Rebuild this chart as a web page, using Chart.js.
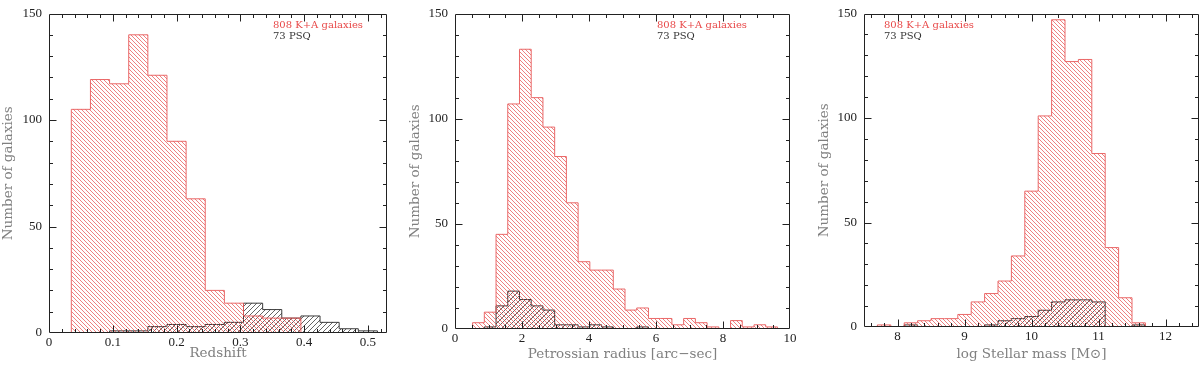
<!DOCTYPE html>
<html>
<head>
<meta charset="utf-8">
<script src="https://cdn.jsdelivr.net/npm/chart.js@4/dist/chart.umd.min.js"></script>
<style>
html, body { margin: 0; padding: 0; background: #fff; }
body { width: 1200px; height: 365px; position: relative; overflow: hidden; }
.panel { position: absolute; top: 0; width: 400px; height: 365px; }
</style>
</head>
<body>
<div class="panel" style="left:0"><canvas id="zChart"></canvas></div>
<div class="panel" style="left:400px"><canvas id="rChart"></canvas></div>
<div class="panel" style="left:800px"><canvas id="mChart"></canvas></div>
<script>
// 红移分布 (bin edges + counts)
const zEdges = [0.035, 0.065, 0.095, 0.125, 0.155, 0.185, 0.215, 0.245, 0.275,
                0.305, 0.335, 0.365, 0.395, 0.425, 0.455, 0.485, 0.515];
const zKA  = [105, 119, 117, 140, 121, 90, 63, 20, 14, 8, 7, 7, 0, 0, 0, 0];
const zPSQ = [0, 0, 1, 1, 3, 4, 3, 4, 5, 14, 11, 7, 8, 5, 2, 1];

// Petrossian radius
const rEdges = [0.525, 0.875, 1.225, 1.575, 1.925, 2.275, 2.625, 2.975, 3.325,
                3.675, 4.025, 4.375, 4.725, 5.075, 5.425, 5.775, 6.125, 6.475,
                6.825, 7.175, 7.525, 7.875, 8.225, 8.575, 8.925, 9.275, 9.625];
const rKA  = [3, 8, 45, 107, 133, 110, 96, 82, 60, 32, 28, 28, 19, 9, 10, 5, 5,
              2, 5, 3, 1, 0, 4, 1, 2, 1];
const rPSQ = [0, 1, 11, 18, 14, 11, 9, 2, 2, 1, 2, 1, 0, 0, 1, 0, 0,
              0, 0, 0, 0, 0, 0, 0, 0, 0];

// stellar mass
const mEdges = [7.7, 7.9, 8.1, 8.3, 8.5, 8.7, 8.9, 9.1, 9.3, 9.5, 9.7, 9.9,
                10.1, 10.3, 10.5, 10.7, 10.9, 11.1, 11.3, 11.5, 11.7];
const mKA  = [1, 0, 2, 3, 4, 4, 6, 12, 16, 22, 34, 65, 101, 147, 127, 128, 83, 38, 14, 2];
const mPSQ = [0, 0, 1, 0, 0, 0, 0, 0, 1, 3, 4, 5, 8, 12, 13, 13, 12, 0, 0, 1];

// tick labels
const zTicks = [0, 0.1, 0.2, 0.3, 0.4, 0.5];
const rTicks = [0, 2, 4, 6, 8, 10];
const mTicks = [8, 9, 10, 11, 12];
const yTicks = [0, 50, 100, 150];

const kaLabel = '808 K+A galaxies';
const psqLabel = '73 PSQ';

const RED = 'rgb(232, 72, 72)';
const DARK = '#333';

// 斜线填充
function makeHatch(color, p, dir, lw) {
    const c = document.createElement('canvas');
    c.width = p; c.height = p;
    const g = c.getContext('2d');
    g.strokeStyle = color;
    g.lineWidth = lw;
    g.beginPath();
    if (dir === '\\') {
        g.moveTo(-1, -1); g.lineTo(p + 1, p + 1);
        g.moveTo(-1, p - 1); g.lineTo(1, p + 1);
        g.moveTo(p - 1, -1); g.lineTo(p + 1, 1);
    } else {
        g.moveTo(-1, p + 1); g.lineTo(p + 1, -1);
        g.moveTo(-1, 1); g.lineTo(1, -1);
        g.moveTo(p - 1, p + 1); g.lineTo(p + 1, p - 1);
    }
    g.stroke();
    return g.createPattern(c, 'repeat');
}

function stepPoints(edges, counts) {
    const pts = [{x: edges[0], y: 0}];
    counts.forEach((c, i) => pts.push({x: edges[i], y: c}));
    pts.push({x: edges[edges.length - 1], y: 0});
    return pts;
}

// 边框 + 内向刻度 + 图例文字
const framePlugin = {
    id: 'frame',
    afterDatasetsDraw(chart, args, opts) {
        const {ctx, chartArea: a, scales: {x, y}} = chart;
        const L = Math.round(a.left) + 0.5, R = Math.round(a.right) - 0.5;
        const T = Math.round(a.top) + 0.5, B = Math.round(a.bottom) - 0.5;
        ctx.save();
        ctx.strokeStyle = '#222';
        ctx.lineWidth = 1;
        ctx.beginPath();
        ctx.rect(L, T, R - L, B - T);

        const ratioX = Math.round(opts.xMajor / opts.xMinor);
        for (let k = Math.ceil(x.min / opts.xMinor - 1e-6); k * opts.xMinor <= x.max + 1e-9; k++) {
            const px = Math.round(x.getPixelForValue(k * opts.xMinor)) + 0.5;
            if (px <= L + 1 || px >= R - 1) continue;
            const len = (k % ratioX === 0) ? 7 : 3.5;
            ctx.moveTo(px, B); ctx.lineTo(px, B - len);
            ctx.moveTo(px, T); ctx.lineTo(px, T + len);
        }
        const ratioY = Math.round(opts.yMajor / opts.yMinor);
        for (let k = 0; k * opts.yMinor <= y.max; k++) {
            const py = Math.round(y.getPixelForValue(k * opts.yMinor)) + 0.5;
            if (py <= T + 1 || py >= B - 1) continue;
            const len = (k % ratioY === 0) ? 7 : 3.5;
            ctx.moveTo(L, py); ctx.lineTo(L + len, py);
            ctx.moveTo(R, py); ctx.lineTo(R - len, py);
        }
        ctx.stroke();

        ctx.font = '10px "DejaVu Serif"';
        ctx.textBaseline = 'middle';
        ctx.textAlign = 'left';
        const lx = opts.legendX - chart.canvas.getBoundingClientRect().left;
        ctx.fillStyle = RED;
        ctx.fillText(chart.data.datasets[0].label, lx, 25);
        ctx.fillStyle = DARK;
        ctx.fillText(chart.data.datasets[1].label, lx, 36);
        ctx.restore();
    }
};

Chart.defaults.font.family = '"Liberation Serif", serif';
Chart.defaults.color = '#222';

function makePanel(id, p) {
    const ctx = document.getElementById(id);
    const x0 = p.x0;
    return new Chart(ctx, {
        type: 'line',
        data: {
            datasets: [
                {
                    label: kaLabel,
                    data: stepPoints(p.edges, p.ka),
                    stepped: true,
                    fill: 'origin',
                    backgroundColor: makeHatch('rgba(232, 80, 80, 0.8)', 4, '\\', 0.9),
                    borderColor: 'rgba(232, 90, 90, 0.9)',
                    borderWidth: 1,
                    pointRadius: 0
                },
                {
                    label: psqLabel,
                    data: stepPoints(p.edges, p.psq),
                    stepped: true,
                    fill: 'origin',
                    backgroundColor: makeHatch('rgba(40, 40, 40, 0.8)', 5, '/', 0.9),
                    borderColor: 'rgba(40, 40, 40, 0.9)',
                    borderWidth: 1,
                    pointRadius: 0
                }
            ]
        },
        options: {
            responsive: true,
            maintainAspectRatio: false,
            animation: false,
            devicePixelRatio: 1,
            layout: {
                padding: {left: 0, top: p.top, right: 400 - (p.right - x0), bottom: 0}
            },
            plugins: {
                legend: {display: false},
                tooltip: {enabled: false},
                frame: {
                    xMinor: p.xMinor, xMajor: p.xMajor,
                    yMinor: 10, yMajor: 50,
                    legendX: p.legendX
                }
            },
            scales: {
                x: {
                    type: 'linear',
                    min: p.xmin,
                    max: p.xmax,
                    grid: {display: false, drawTicks: false},
                    border: {display: false},
                    afterBuildTicks: s => { s.ticks = p.ticks.map(v => ({value: v})); },
                    afterFit: s => { s.height = 365 - p.bottom; },
                    ticks: {
                        padding: 3.5,
                        maxRotation: 0,
                        autoSkip: false,
                        font: {size: 13, lineHeight: 1},
                        color: '#222'
                    },
                    title: {
                        display: true,
                        text: p.xTitle,
                        color: '#808080',
                        font: {family: '"DejaVu Serif"', size: 13.5},
                        padding: {top: 0, bottom: p.xTitlePad}
                    }
                },
                y: {
                    type: 'linear',
                    min: 0,
                    max: 150,
                    grid: {display: false, drawTicks: false},
                    border: {display: false},
                    afterBuildTicks: s => { s.ticks = yTicks.map(v => ({value: v})); },
                    afterFit: s => { s.width = p.left - x0; },
                    ticks: {
                        padding: 7,
                        font: {size: 13, lineHeight: 1},
                        color: '#222'
                    },
                    title: {
                        display: true,
                        text: 'Number of galaxies',
                        color: '#808080',
                        font: {family: '"DejaVu Serif"', size: 13.5},
                        padding: {top: p.yTitlePad, bottom: 0}
                    }
                }
            }
        },
        plugins: [framePlugin]
    });
}

makePanel('zChart', {
    x0: 0, left: 49, right: 387, top: 7, bottom: 333,
    edges: zEdges, ka: zKA, psq: zPSQ, ticks: zTicks,
    xmin: 0, xmax: 0.53, xMinor: 0.02, xMajor: 0.1,
    xTitle: 'Redshift', xTitlePad: 3.5, yTitlePad: 0, legendX: 273
});
makePanel('rChart', {
    x0: 400, left: 455, right: 791, top: 7, bottom: 329,
    edges: rEdges, ka: rKA, psq: rPSQ, ticks: rTicks,
    xmin: 0, xmax: 10, xMinor: 0.5, xMajor: 2,
    xTitle: 'Petrossian radius [arc\u2212sec]', xTitlePad: 2, yTitlePad: 7, legendX: 657
});
makePanel('mChart', {
    x0: 800, left: 864, right: 1199, top: 7, bottom: 327,
    edges: mEdges, ka: mKA, psq: mPSQ, ticks: mTicks,
    xmin: 7.5, xmax: 12.5, xMinor: 0.2, xMajor: 1,
    xTitle: 'log Stellar mass [M\u2299]', xTitlePad: 2, yTitlePad: 16, legendX: 884
});
</script>
</body>
</html>
